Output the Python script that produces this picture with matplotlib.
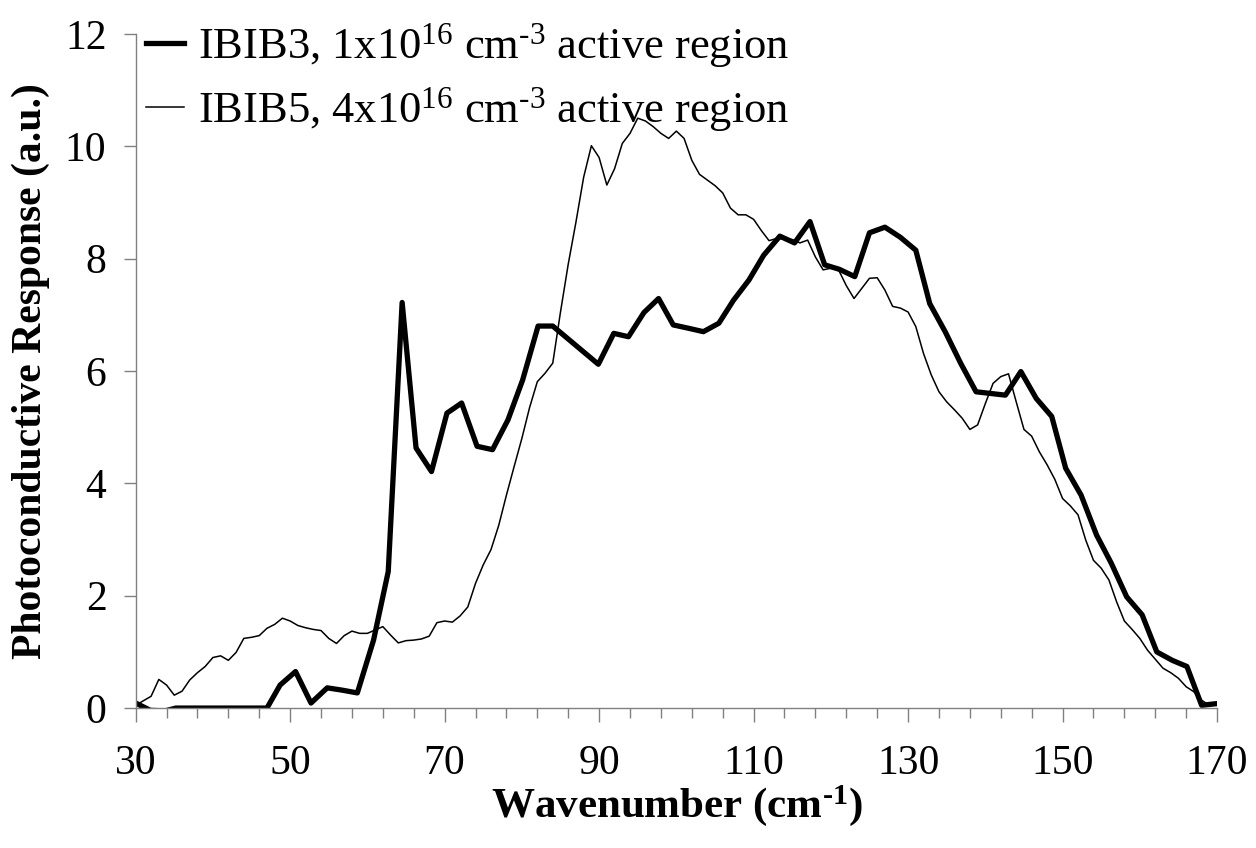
import matplotlib

matplotlib.use("Agg")
import matplotlib.pyplot as plt
from matplotlib.ticker import MultipleLocator

plt.rcParams["font.family"] = ["Liberation Serif", "DejaVu Serif"]
plt.rcParams["mathtext.fontset"] = "custom"
plt.rcParams["mathtext.rm"] = "Liberation Serif"
plt.rcParams["mathtext.bf"] = "Liberation Serif:bold"

# IBIB3 (thick), ~2 cm^-1 steps
ibib3_x = [30.0, 31.9, 33.8, 35.2, 37.2, 39.2, 41.1, 43.1, 45.0, 47.0, 48.7, 50.7,
           52.7, 54.8, 56.7, 58.7, 60.8, 62.7, 64.5, 66.3, 68.3, 70.3, 72.2, 74.2,
           76.2, 78.2, 80.1, 82.1, 84.0, 89.9, 91.9, 93.8, 95.8, 97.7, 99.6, 101.6,
           103.5, 105.5, 107.4, 109.4, 111.3, 113.4, 115.3, 117.3, 119.2, 121.1, 123.1,
           125.0, 127.0, 129.0, 131.0, 132.8, 134.8, 136.8, 138.8, 142.6, 144.6, 146.6,
           148.6, 150.4, 152.4, 154.4, 156.3, 158.3, 160.3, 162.2, 164.2, 166.1, 168.0,
           170.0]
ibib3_y = [0.09, -0.04, -0.05, 0.0, 0.0, 0.0, 0.0, 0.0, 0.0, 0.0, 0.41, 0.65,
           0.09, 0.36, 0.32, 0.27, 1.21, 2.43, 7.22, 4.63, 4.21, 5.25, 5.43, 4.66,
           4.60, 5.13, 5.84, 6.80, 6.80, 6.12, 6.67, 6.61, 7.04, 7.29, 6.82, 6.76,
           6.70, 6.85, 7.26, 7.62, 8.06, 8.40, 8.28, 8.66, 7.89, 7.81, 7.68,
           8.46, 8.56, 8.38, 8.15, 7.20, 6.70, 6.14, 5.63, 5.57, 5.99, 5.51,
           5.19, 4.27, 3.79, 3.08, 2.58, 1.98, 1.66, 1.00, 0.85, 0.74, 0.05,
           0.08]

# IBIB5 (thin), 1 cm^-1 steps from 30 to 170
ibib5_x = list(range(30, 171))
ibib5_y = [0.05, 0.13, 0.21, 0.51, 0.41, 0.23, 0.30, 0.50, 0.63, 0.74,
           0.90, 0.93, 0.85, 0.99, 1.24, 1.26, 1.29, 1.42, 1.49, 1.60,
           1.55, 1.47, 1.43, 1.40, 1.38, 1.24, 1.15, 1.29, 1.37, 1.33,
           1.33, 1.39, 1.45, 1.30, 1.16, 1.20, 1.21, 1.23, 1.28, 1.52,
           1.55, 1.53, 1.64, 1.80, 2.22, 2.55, 2.82, 3.25, 3.79, 4.30,
           4.80, 5.35, 5.81, 5.96, 6.14, 7.05, 7.90, 8.65, 9.45, 10.01,
           9.80, 9.31, 9.60, 10.05, 10.23, 10.50, 10.45, 10.35, 10.23, 10.14,
           10.27, 10.14, 9.75, 9.50, 9.40, 9.30, 9.17, 8.90, 8.78, 8.78,
           8.70, 8.50, 8.32, 8.36, 8.35, 8.34, 8.28, 8.33, 8.03, 7.80,
           7.83, 7.80, 7.52, 7.29, 7.47, 7.65, 7.66, 7.44, 7.15, 7.12,
           7.05, 6.79, 6.31, 5.93, 5.63, 5.45, 5.31, 5.16, 4.96, 5.04,
           5.42, 5.78, 5.90, 5.95, 5.45, 4.96, 4.84, 4.56, 4.33, 4.07,
           3.73, 3.60, 3.44, 2.99, 2.63, 2.49, 2.28, 1.89, 1.55, 1.40,
           1.24, 1.03, 0.87, 0.71, 0.63, 0.53, 0.38, 0.29, 0.14, 0.05,
           0.05]

x_major = list(range(30, 171, 20))
x_minor = list(range(30, 171, 4))

# plain hyphen in the superscripts, as in the original (mathtext would turn "-" into a minus)
HY = "\u2010"
label3 = r"IBIB3, 1x10$\mathregular{^{16}}$ cm$\mathregular{^{" + HY + r"3}}$ active region"
label5 = r"IBIB5, 4x10$\mathregular{^{16}}$ cm$\mathregular{^{" + HY + r"3}}$ active region"

fig = plt.figure(figsize=(12.56, 8.48), dpi=100)
ax = fig.add_axes([0.108, 0.165, 0.861, 0.795])

ax.plot(ibib3_x, ibib3_y, color="black", lw=3.8, label=label3)
ax.plot(ibib5_x, ibib5_y, color="black", lw=1.1, label=label5)

ax.set_xlim(30, 170)
ax.set_ylim(0, 12)
ax.set_xticks(x_major)
ax.set_xticks(x_minor, minor=True)
ax.yaxis.set_major_locator(MultipleLocator(2))

for side in ("top", "right"):
    ax.spines[side].set_visible(False)
for side in ("left", "bottom"):
    ax.spines[side].set_color("#808080")
    ax.spines[side].set_linewidth(1.0)

ax.tick_params(axis="x", which="major", direction="out", length=10, width=1.0,
               color="#808080", labelsize=30, pad=16)
ax.tick_params(axis="x", which="minor", direction="out", length=7, width=1.0,
               color="#808080")
ax.tick_params(axis="y", which="major", direction="out", length=9, width=1.0,
               color="#808080", labelsize=30, pad=12)

ax.set_xlabel("Wavenumber (cm$\\mathregular{^{" + HY + "1}}$)", fontsize=31,
              fontweight="bold", labelpad=0)
ax.set_ylabel("Photoconductive Response (a.u.)", fontsize=30,
              fontweight="bold", labelpad=11)

# legend sits right against the top of the y axis, no frame
ax.legend(loc="upper left", bbox_to_anchor=(0.010, 1.018), frameon=False,
          fontsize=32, handlelength=0.85, handletextpad=0.3, labelspacing=0.33,
          borderaxespad=0, borderpad=0)

fig.savefig("out.png", dpi=100)
